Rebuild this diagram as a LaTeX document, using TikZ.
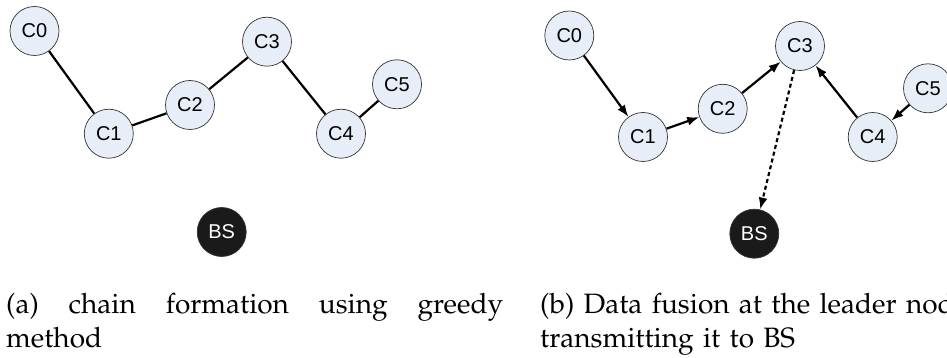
\documentclass[tikz,border=0pt]{standalone}
\usepackage{fontspec}
\setsansfont{Liberation Sans}
\usetikzlibrary{arrows.meta}

\definecolor{nodefill}{HTML}{E8EEF8}
\definecolor{bsfill}{HTML}{1A1A1A}
\newcommand{\capfont}{\fontencoding{OT1}\fontfamily{ppl}\fontsize{28}{34}\selectfont}

\tikzset{
    sensor/.style={circle, draw=black!80, line width=0.7pt, fill=nodefill,
        minimum size=49pt, inner sep=0pt, font=\sffamily\fontsize{20}{24}\selectfont},
    station/.style={sensor, fill=bsfill, text=white},
    link/.style={line width=2.2pt},
    hop/.style={link, -{Latex[length=12pt,width=9pt]}},
    caption/.style={anchor=base west, inner sep=0pt, font=\capfont}
}

\begin{document}
\begin{tikzpicture}[x=1pt,y=-1pt]

    \useasboundingbox (0,0) rectangle (947,358);
    \clip (0,0) rectangle (947,358);

    % (a) chain built greedily
    \node[sensor] (aC0) at (34.5,31) {C0};
    \node[sensor] (aC1) at (108.8,133.7) {C1};
    \node[sensor] (aC2) at (190,105) {C2};
    \node[sensor] (aC3) at (267,41.7) {C3};
    \node[sensor] (aC4) at (341,133.7) {C4};
    \node[sensor] (aC5) at (397,84.3) {C5};
    \node[station] (aBS) at (221.7,232) {BS};
    \draw [link] (aC0) -- (aC1);
    \draw [link] (aC1) -- (aC2);
    \draw [link] (aC2) -- (aC3);
    \draw [link] (aC3) -- (aC4);
    \draw [link] (aC4) -- (aC5);

    % (b) fusion at the leader
    \node[sensor] (bC0) at (569.3,35.5) {C0};
    \node[sensor] (bC1) at (643,137) {C1};
    \node[sensor] (bC2) at (722.7,108.8) {C2};
    \node[sensor] (bC3) at (800,46) {C3};
    \node[sensor] (bC4) at (872.7,137) {C4};
    \node[sensor] (bC5) at (928,88.3) {C5};
    \node[station] (bBS) at (754.3,233.7) {BS};
    \draw [hop] (bC0) -- (bC1);
    \draw [hop] (bC1) -- (bC2);
    \draw [hop] (bC2) -- (bC3);
    \draw [hop] (bC4) -- (bC3);
    \draw [hop] (bC5) -- (bC4);
    \draw [hop, dash pattern=on 4pt off 3pt] (bC3) -- (bBS);

    \node[caption, text width=497pt, align=justify] (capA) at (6,313)
        {(a) chain formation using greedy\linebreak method};
    \node[caption, text width=497pt, align=left] (capB) at (540,313)
        {(b) Data fusion at the leader node\\transmitting it to BS};

\end{tikzpicture}
\end{document}
